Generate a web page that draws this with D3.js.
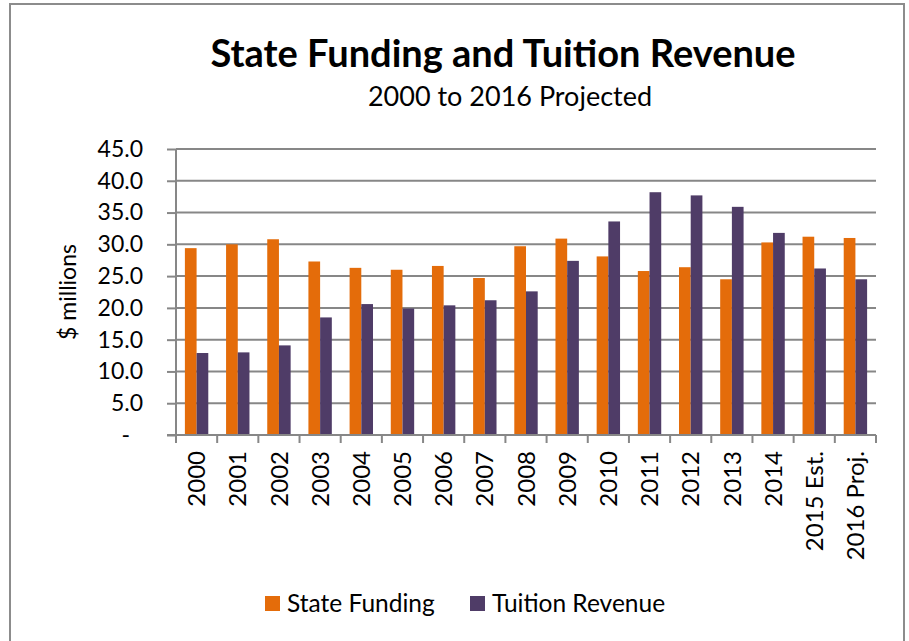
<!DOCTYPE html>
<html>
<head>
<meta charset="utf-8">
<script src="https://cdn.jsdelivr.net/npm/d3@7"></script>
<style>
  body { margin: 0; background: #fff; }
  svg { display: block; font-family: Lato, "Noto Sans", sans-serif; }
</style>
</head>
<body>
<script>
// data
var years = ["2000", "2001", "2002", "2003", "2004", "2005", "2006", "2007", "2008",
    "2009", "2010", "2011", "2012", "2013", "2014", "2015 Est.", "2016 Proj."];
var stateFunding = [29.4, 30.0, 30.8, 27.3, 26.3, 26.0, 26.6, 24.7, 29.7,
    30.9, 28.1, 25.8, 26.4, 24.5, 30.3, 31.2, 31.0];
var tuitionRevenue = [12.9, 13.0, 14.1, 18.5, 20.6, 19.9, 20.4, 21.2, 22.6,
    27.4, 33.6, 38.2, 37.7, 35.9, 31.8, 26.2, 24.5];
var seriesNames = ["State Funding", "Tuition Revenue"];
var yTicks = [0, 5, 10, 15, 20, 25, 30, 35, 40, 45];

var colors = ["#E46C0A", "#4F3C67"];
var gridColor = "#878787";

var w = 909;
var h = 641;
var plotLeft = 176, plotRight = 876, plotTop = 149, plotBottom = 435;

var svg = d3.select("body").append("svg").attr("width", w).attr("height", h);

// chart border
svg.append("rect")
    .attr("x", 10).attr("y", 4)
    .attr("width", 894).attr("height", 660)
    .attr("fill", "white")
    .attr("stroke", "#8c8c8c")
    .attr("stroke-width", 2);

// title
svg.append("text")
    .text("State Funding and Tuition Revenue")
    .attr("x", 503).attr("y", 67)
    .attr("text-anchor", "middle")
    .attr("font-size", "38px")
    .attr("font-weight", "bold");

svg.append("text")
    .text("2000 to 2016 Projected")
    .attr("x", 510).attr("y", 106)
    .attr("text-anchor", "middle")
    .attr("font-size", "27px");

var yScale = d3.scaleLinear().domain([0, 45]).range([plotBottom, plotTop]);

var xScale = d3.scaleBand().domain(years).range([plotLeft, plotRight]).padding(0);

var xInner = d3.scaleBand()
    .domain([0, 1])
    .range([0, xScale.bandwidth()])
    .paddingInner(0)
    .paddingOuter(0.76);

// gridlines
svg.append("g")
    .selectAll("line")
    .data(yTicks.filter(d => d > 0))
    .enter()
    .append("line")
    .attr("x1", plotLeft).attr("x2", plotRight)
    .attr("y1", d => yScale(d)).attr("y2", d => yScale(d))
    .attr("stroke", gridColor)
    .attr("stroke-width", 2);

// bars
var groups = svg.append("g")
    .selectAll("g")
    .data(years)
    .enter()
    .append("g")
    .attr("transform", d => "translate(" + xScale(d) + ",0)");

groups.selectAll("rect")
    .data((d, i) => [stateFunding[i], tuitionRevenue[i]])
    .enter()
    .append("rect")
    .attr("x", (d, j) => xInner(j))
    .attr("y", d => yScale(d))
    .attr("width", xInner.bandwidth())
    .attr("height", d => plotBottom - yScale(d))
    .attr("fill", (d, j) => colors[j]);

// y axis
var yAxis = d3.axisLeft(yScale)
    .tickValues(yTicks)
    .tickSize(9)
    .tickPadding(24)
    .tickFormat(d => d === 0 ? "-" : d3.format(".1f")(d));

var yG = svg.append("g")
    .attr("transform", "translate(" + plotLeft + ",0)")
    .call(yAxis);
yG.select(".domain").remove();
yG.selectAll(".tick line").attr("stroke", gridColor).attr("stroke-width", 2);
yG.selectAll(".tick text")
    .attr("font-size", "23px")
    .attr("font-family", "Lato, 'Noto Sans', sans-serif")
    .attr("fill", "black")
    .attr("dx", d => d === 0 ? -13 : 0);

svg.append("line")
    .attr("x1", plotLeft).attr("x2", plotLeft)
    .attr("y1", plotTop).attr("y2", plotBottom + 8)
    .attr("stroke", gridColor).attr("stroke-width", 2);

// x axis
svg.append("line")
    .attr("x1", plotLeft - 9).attr("x2", plotRight)
    .attr("y1", plotBottom).attr("y2", plotBottom)
    .attr("stroke", gridColor).attr("stroke-width", 2);

svg.append("g")
    .selectAll("line")
    .data(years)
    .enter()
    .append("line")
    .attr("x1", d => xScale(d) + xScale.step())
    .attr("x2", d => xScale(d) + xScale.step())
    .attr("y1", plotBottom).attr("y2", plotBottom + 8)
    .attr("stroke", gridColor).attr("stroke-width", 2);

svg.append("g")
    .selectAll("text")
    .data(years)
    .enter()
    .append("text")
    .text(d => d)
    .attr("transform", d => "translate(" + (xScale(d) + xScale.bandwidth() / 2) + "," + (plotBottom + 16) + ") rotate(-90)")
    .attr("text-anchor", "end")
    .attr("dy", "0.36em")
    .attr("font-size", "24px");

// y title
svg.append("text")
    .text("$ millions")
    .attr("transform", "translate(68,292) rotate(-90)")
    .attr("text-anchor", "middle")
    .attr("dy", "0.36em")
    .attr("font-size", "23px");

// legend
var legend = svg.append("g")
    .selectAll("g")
    .data(seriesNames)
    .enter()
    .append("g")
    .attr("transform", (d, i) => "translate(" + [265, 470][i] + ",596)");

legend.append("rect")
    .attr("width", 15).attr("height", 15)
    .attr("fill", (d, i) => colors[i]);

legend.append("text")
    .text(d => d)
    .attr("x", 22).attr("y", 7.5)
    .attr("dy", "0.36em")
    .attr("font-size", "24.5px");
</script>
</body>
</html>
